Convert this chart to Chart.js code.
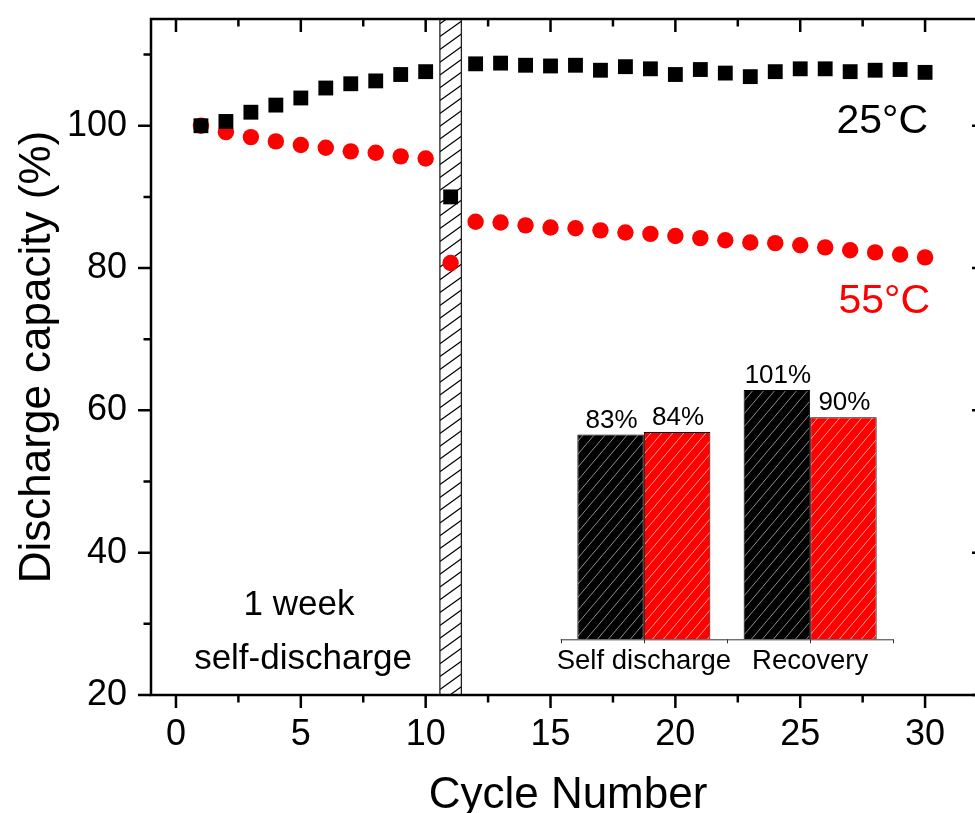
<!DOCTYPE html>
<html>
<head>
<meta charset="utf-8">
<script src="https://cdn.jsdelivr.net/npm/chart.js@4.4.1/dist/chart.umd.min.js"></script>
<style>
  html, body { margin: 0; padding: 0; overflow: hidden; background: #fff; width: 975px; height: 813px; }
  #main { position: absolute; left: 0; top: 0; }
  #inset { position: absolute; left: 540px; top: 330px; }
</style>
</head>
<body>
<canvas id="main" width="1000" height="830"></canvas>
<canvas id="inset" width="380" height="360"></canvas>
<script>
// cycle data
const cycles = [1, 2, 3, 4, 5, 6, 7, 8, 9, 10, 11, 12, 13, 14, 15, 16, 17, 18, 19, 20, 21, 22, 23, 24, 25, 26, 27, 28, 29, 30];
const cap25 = [100, 100.6, 101.9, 102.9, 103.9, 105.3, 105.9, 106.3, 107.2, 107.6, 90.0, 108.7, 108.8, 108.5, 108.4, 108.5, 107.8, 108.3, 108.0, 107.2, 107.9, 107.4, 106.9, 107.6, 108.0, 108.0, 107.6, 107.8, 107.9, 107.5];
const cap55 = [100, 99.1, 98.4, 97.8, 97.3, 96.9, 96.4, 96.2, 95.7, 95.4, 80.7, 86.5, 86.4, 86.0, 85.7, 85.6, 85.3, 85.0, 84.8, 84.5, 84.2, 83.9, 83.6, 83.5, 83.2, 82.9, 82.5, 82.2, 81.9, 81.5];

// self-discharge period (hatched band), in cycle units
const bandStart = 10.57;
const bandEnd = 11.43;

// inset bar chart
const insetCats = ["Self discharge", "Recovery"];
const inset25 = [83, 101];
const inset55 = [84, 90];

const FONT = "'Liberation Sans', Arial, Helvetica, sans-serif";

// text notes placed in data coordinates
const notes = [
  { text: "25°C", x: 30.12, y: 99.0, color: "#000", align: "right", size: 41 },
  { text: "55°C", x: 30.2, y: 73.7, color: "#ff0000", align: "right", size: 41 },
  { text: "1 week", x: 4.93, y: 31.2, color: "#000", align: "center", size: 35 },
  { text: "self-discharge", x: 5.09, y: 23.6, color: "#000", align: "center", size: 35 },
];

function toPoints(ys) {
  return cycles.map((c, i) => ({ x: c, y: ys[i] }));
}

// diagonal hatch pattern for the inset bars
function hatch(bg, line) {
  const c = document.createElement("canvas");
  const w = 11, h = 13;
  c.width = w;
  c.height = h;
  const g = c.getContext("2d");
  g.fillStyle = bg;
  g.fillRect(0, 0, w, h);
  g.strokeStyle = line;
  g.lineWidth = 1;
  g.beginPath();
  for (const dx of [-w, 0, w]) {
    g.moveTo(dx, h);
    g.lineTo(dx + w, 0);
  }
  g.stroke();
  return g.createPattern(c, "repeat");
}

const mainDecor = {
  id: "mainDecor",
  beforeDatasetsDraw(chart) {
    const { ctx, chartArea: a, scales: { x } } = chart;
    const x0 = x.getPixelForValue(bandStart);
    const x1 = x.getPixelForValue(bandEnd);
    ctx.save();
    ctx.beginPath();
    ctx.rect(x0, a.top, x1 - x0, a.bottom - a.top);
    ctx.clip();
    ctx.fillStyle = "#fff";
    ctx.fill();
    ctx.strokeStyle = "#000";
    ctx.lineWidth = 1.2;
    ctx.beginPath();
    for (let yy = a.bottom + 20; yy > a.top - 20; yy -= 12.8) {
      ctx.moveTo(x0, yy);
      ctx.lineTo(x1, yy - (x1 - x0) * 0.72);
    }
    ctx.stroke();
    ctx.restore();
    ctx.save();
    ctx.strokeStyle = "#222";
    ctx.lineWidth = 1.3;
    ctx.strokeRect(x0, a.top, x1 - x0, a.bottom - a.top);
    ctx.restore();
  },
  afterDatasetsDraw(chart) {
    const { ctx, scales: { x, y } } = chart;
    ctx.save();
    ctx.textBaseline = "alphabetic";
    notes.forEach((n) => {
      ctx.font = n.size + "px " + FONT;
      ctx.fillStyle = n.color;
      ctx.textAlign = n.align;
      ctx.fillText(n.text, x.getPixelForValue(n.x), y.getPixelForValue(n.y));
    });
    ctx.restore();
  },
  afterDraw(chart) {
    const { ctx, chartArea: a, scales: { x, y } } = chart;
    const major = 13, minor = 7.5;
    ctx.save();
    ctx.strokeStyle = "#000";
    ctx.lineWidth = 2.5;
    ctx.strokeRect(a.left, a.top, a.right - a.left, a.bottom - a.top);

    ctx.beginPath();
    // x ticks: bottom outward, top inward
    for (let v = Math.ceil(x.min / 2.5) * 2.5; v <= x.max; v += 2.5) {
      const len = v % 5 === 0 ? major : minor;
      const px = x.getPixelForValue(v);
      ctx.moveTo(px, a.bottom);
      ctx.lineTo(px, a.bottom + len);
      ctx.moveTo(px, a.top);
      ctx.lineTo(px, a.top + len);
    }
    // y ticks: left outward, right inward
    for (let v = Math.ceil(y.min / 10) * 10; v <= y.max; v += 10) {
      const len = v % 20 === 0 ? major : minor;
      const py = y.getPixelForValue(v);
      ctx.moveTo(a.left, py);
      ctx.lineTo(a.left - len, py);
      ctx.moveTo(a.right, py);
      ctx.lineTo(a.right - len, py);
    }
    ctx.stroke();
    ctx.restore();
  },
};

new Chart(document.getElementById("main"), {
  type: "scatter",
  data: {
    datasets: [
      {
        label: "25°C",
        data: toPoints(cap25),
        pointStyle: "rect",
        pointRadius: 10.5,
        pointBackgroundColor: "#000",
        pointBorderWidth: 0,
        showLine: false,
      },
      {
        label: "55°C",
        data: toPoints(cap55),
        pointStyle: "circle",
        pointRadius: 8.2,
        pointBackgroundColor: "#ff0000",
        pointBorderWidth: 0,
        showLine: false,
      },
    ],
  },
  options: {
    responsive: false,
    animation: false,
    layout: { padding: { left: 0, top: 19, right: 15, bottom: 0 } },
    plugins: { legend: { display: false }, tooltip: { enabled: false } },
    scales: {
      x: {
        type: "linear",
        min: -1,
        max: 32.4,
        grid: { display: false, drawTicks: false },
        border: { display: false },
        ticks: { stepSize: 5, includeBounds: false, maxRotation: 0, padding: 18, color: "#000", font: { family: FONT, size: 36 } },
        title: { display: true, text: "Cycle Number", color: "#000", font: { family: FONT, size: 44 }, padding: { top: 0, bottom: 7.6 } },
        afterFit(s) {
          s.height = 135;
          s.paddingLeft = 0;
          s.paddingRight = 0;
        },
      },
      y: {
        min: 20,
        max: 115,
        grid: { display: false, drawTicks: false },
        border: { display: false },
        ticks: { stepSize: 20, includeBounds: false, padding: 24, color: "#000", font: { family: FONT, size: 36 } },
        title: { display: true, text: "Discharge capacity (%)", color: "#000", font: { family: FONT, size: 44 }, padding: { top: 11, bottom: 0 } },
        afterFit(s) {
          s.width = 151;
          s.paddingTop = 0;
          s.paddingBottom = 0;
        },
      },
    },
  },
  plugins: [mainDecor],
});

const insetDecor = {
  id: "insetDecor",
  afterDatasetsDraw(chart) {
    const { ctx, chartArea: a, scales: { x } } = chart;
    ctx.save();
    // value labels
    ctx.font = "26px " + FONT;
    ctx.fillStyle = "#000";
    ctx.textAlign = "center";
    ctx.textBaseline = "alphabetic";
    chart.data.datasets.forEach((ds, di) => {
      chart.getDatasetMeta(di).data.forEach((bar, i) => {
        ctx.fillText(ds.data[i] + "%", bar.x + 1, bar.y - 7);
      });
    });
    // axis line with ticks at group edges and centres
    ctx.strokeStyle = "#333";
    ctx.lineWidth = 1;
    ctx.beginPath();
    ctx.moveTo(x.getPixelForValue(-0.5), a.bottom + 0.5);
    ctx.lineTo(x.getPixelForValue(insetCats.length - 0.5), a.bottom + 0.5);
    for (let v = -0.5; v <= insetCats.length - 0.5; v += 0.5) {
      const px = Math.round(x.getPixelForValue(v)) + 0.5;
      ctx.moveTo(px, a.bottom);
      ctx.lineTo(px, a.bottom + 4);
    }
    ctx.stroke();
    ctx.restore();
  },
};

new Chart(document.getElementById("inset"), {
  type: "bar",
  data: {
    labels: insetCats,
    datasets: [
      {
        label: "25°C",
        data: inset25,
        backgroundColor: hatch("#000000", "#8c8c8c"),
        borderColor: "#000",
        borderWidth: 1,
        categoryPercentage: 0.8,
        barPercentage: 1,
      },
      {
        label: "55°C",
        data: inset55,
        backgroundColor: hatch("#ff0000", "#ff9c9c"),
        borderColor: "#000",
        borderWidth: 1,
        categoryPercentage: 0.8,
        barPercentage: 1,
      },
    ],
  },
  options: {
    responsive: false,
    animation: false,
    layout: { padding: { left: 20.7, right: 26.7, top: 37.9, bottom: 0 } },
    plugins: { legend: { display: false }, tooltip: { enabled: false } },
    scales: {
      x: {
        grid: { display: false, drawTicks: false },
        border: { display: false },
        ticks: { padding: 6, maxRotation: 0, autoSkip: false, color: "#000", font: { family: FONT, size: 27.5 } },
        afterFit(s) { s.height = 50.7; },
      },
      y: { display: false, min: 0, max: 110 },
    },
  },
  plugins: [insetDecor],
});
</script>
</body>
</html>
